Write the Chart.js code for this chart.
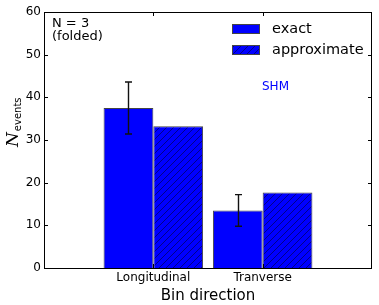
<!DOCTYPE html>
<html>
<head>
<meta charset="utf-8">
<script src="https://cdn.jsdelivr.net/npm/chart.js@4.4.1/dist/chart.umd.min.js"></script>
<style>
  html, body { margin: 0; padding: 0; background: #fff; }
  #wrap { width: 379px; height: 305px; }
</style>
</head>
<body>
<div id="wrap"><canvas id="chart"></canvas></div>
<script>
// Data
const categories = ['Longitudinal', 'Tranverse'];
const exactValues = [37.5, 13.5];
const approxValues = [33.2, 17.7];
const errLow = [31.4, 9.8];
const errHigh = [43.6, 17.2];
const yTicks = [0, 10, 20, 30, 40, 50, 60];

const FONT = "'DejaVu Sans', sans-serif";
const BLUE = '#0000ff';

// pad categories so the two groups sit at 1 and 2 on a 0..3 axis
const labels = ['', ...categories, ''];
const pad = arr => [null, ...arr, null];

// hatch pattern for approximate bars
function makeHatch() {
  const s = 7;
  const c = document.createElement('canvas');
  c.width = s; c.height = s;
  const g = c.getContext('2d');
  g.fillStyle = BLUE;
  g.fillRect(0, 0, s, s);
  g.strokeStyle = 'rgba(0,0,30,0.8)';
  g.lineWidth = 0.65;
  g.beginPath();
  g.moveTo(0, s); g.lineTo(s, 0);
  g.moveTo(-1, 1); g.lineTo(1, -1);
  g.moveTo(s - 1, s + 1); g.lineTo(s + 1, s - 1);
  g.stroke();
  return g.createPattern(c, 'repeat');
}

const ctx = document.getElementById('chart').getContext('2d');
const hatch = makeHatch();

// frame, inward ticks, error bars, annotations, legend, y title
const extras = {
  id: 'extras',
  afterDatasetsDraw(chart) {
    const g = chart.ctx;
    const a = chart.chartArea;
    const x = chart.scales.x, y = chart.scales.y;

    // error bars on the exact bars
    const meta = chart.getDatasetMeta(0);
    g.save();
    g.strokeStyle = '#111';
    g.lineWidth = 1.4;
    categories.forEach((c, i) => {
      const bar = meta.data[i + 1];
      const cx = Math.round(bar.x) + 0.5;
      const top = y.getPixelForValue(errHigh[i]);
      const bot = y.getPixelForValue(errLow[i]);
      g.beginPath();
      g.moveTo(cx, top); g.lineTo(cx, bot);
      g.moveTo(cx - 3.5, top); g.lineTo(cx + 3.5, top);
      g.moveTo(cx - 3.5, bot); g.lineTo(cx + 3.5, bot);
      g.stroke();
    });
    g.restore();

    // frame
    g.save();
    g.strokeStyle = '#000';
    g.lineWidth = 1;
    g.strokeRect(Math.round(a.left) + 0.5, Math.round(a.top) + 0.5,
      Math.round(a.right - a.left) - 1, Math.round(a.bottom - a.top));

    // inward tick marks
    const tl = 4;
    yTicks.forEach(v => {
      const py = Math.round(y.getPixelForValue(v)) + 0.5;
      g.beginPath();
      g.moveTo(a.left, py); g.lineTo(a.left + tl, py);
      g.moveTo(a.right, py); g.lineTo(a.right - tl, py);
      g.stroke();
    });
    categories.forEach((c, i) => {
      const px = Math.round(x.getPixelForValue(i + 1)) + 0.5;
      g.beginPath();
      g.moveTo(px, a.top); g.lineTo(px, a.top + tl);
      g.moveTo(px, a.bottom); g.lineTo(px, a.bottom - tl);
      g.stroke();
    });
    g.restore();

    // annotations
    g.save();
    g.fillStyle = '#000';
    g.font = '13px ' + FONT;
    g.textBaseline = 'middle';
    g.textAlign = 'left';
    g.fillText('N = 3', a.left + 8, 24);
    g.fillText('(folded)', a.left + 8, 37);
    g.fillStyle = BLUE;
    g.font = '12px ' + FONT;
    g.fillText('SHM', 262, 87);
    g.restore();

    // legend
    g.save();
    const items = [
      { text: 'exact', fill: BLUE, y: 24 },
      { text: 'approximate', fill: hatch, y: 45 }
    ];
    g.font = '14.5px ' + FONT;
    g.textBaseline = 'middle';
    items.forEach(it => {
      g.fillStyle = it.fill;
      g.fillRect(232, it.y, 28, 10);
      g.strokeStyle = '#444';
      g.lineWidth = 1;
      g.strokeRect(232.5, it.y + 0.5, 27, 9);
      g.fillStyle = '#000';
      g.fillText(it.text, 272, it.y + 5);
    });
    g.restore();

    // y title: N with subscript "events"
    g.save();
    g.translate(18, 147);
    g.rotate(-Math.PI / 2);
    g.fillStyle = '#000';
    g.textBaseline = 'alphabetic';
    g.font = 'italic 17px "DejaVu Serif", serif';
    g.fillText('N', 0, 0);
    const nw = g.measureText('N').width;
    g.font = '10px ' + FONT;
    g.fillText('events', nw + 1, 3);
    g.restore();
  }
};

new Chart(ctx, {
  type: 'bar',
  data: {
    labels: labels,
    datasets: [
      {
        label: 'exact',
        data: pad(exactValues),
        backgroundColor: BLUE,
        borderColor: '#444',
        borderWidth: 1
      },
      {
        label: 'approximate',
        data: pad(approxValues),
        backgroundColor: hatch,
        borderColor: '#444',
        borderWidth: 1
      }
    ]
  },
  options: {
    responsive: true,
    maintainAspectRatio: false,
    animation: false,
    layout: { padding: { left: 0, right: 7, top: 12, bottom: 0 } },
    plugins: {
      legend: { display: false },
      tooltip: { enabled: false }
    },
    datasets: {
      bar: { categoryPercentage: 0.91, barPercentage: 1, skipNull: false }
    },
    scales: {
      x: {
        offset: false,
        grid: { display: false, drawTicks: false },
        border: { display: false },
        ticks: {
          color: '#000',
          font: { family: FONT, size: 12 },
          padding: 3,
          maxRotation: 0,
          autoSkip: false
        },
        title: {
          display: true,
          text: 'Bin direction',
          color: '#000',
          font: { family: FONT, size: 15 },
          padding: { top: 0, bottom: 0 }
        },
        afterFit: s => { s.height = 37; }
      },
      y: {
        min: 0,
        max: 60,
        afterBuildTicks: s => { s.ticks = yTicks.map(v => ({ value: v })); },
        grid: { display: false, drawTicks: false },
        border: { display: false },
        ticks: {
          color: '#000',
          font: { family: FONT, size: 12 },
          padding: 3
        },
        afterFit: s => { s.width = 44; }
      }
    }
  },
  plugins: [extras]
});
</script>
</body>
</html>
